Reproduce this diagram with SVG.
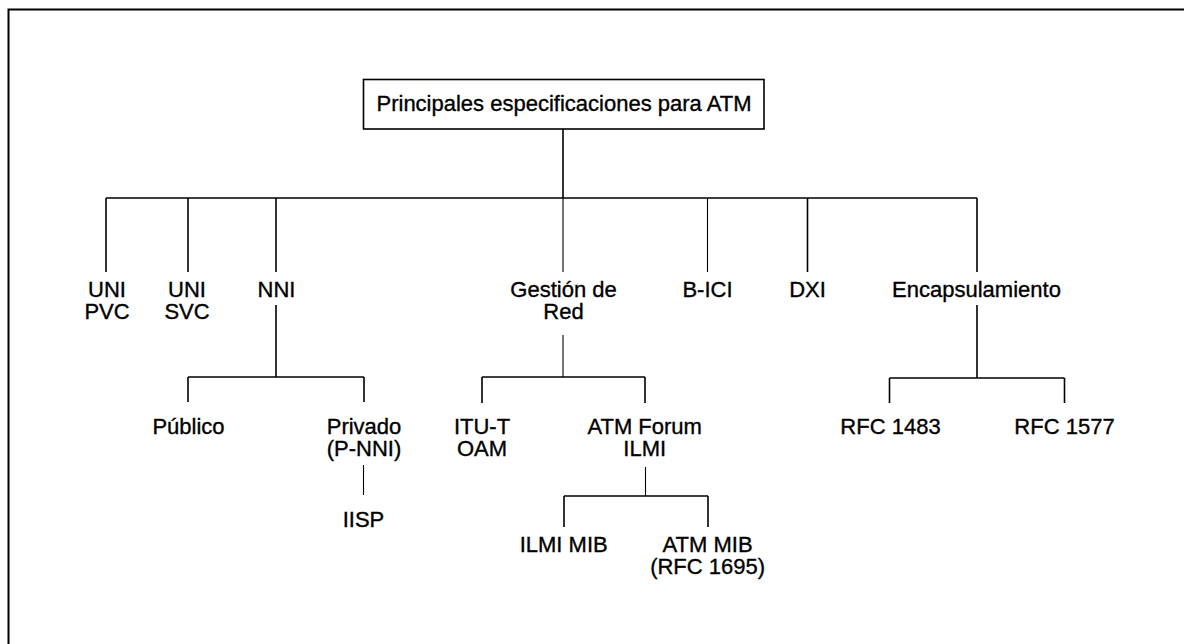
<svg xmlns="http://www.w3.org/2000/svg" width="1184" height="644" viewBox="0 0 1184 644">
<style>
.t{font-family:"Liberation Sans",Arial,sans-serif;font-size:22px;fill:#000;stroke:#000;stroke-width:0.35;text-anchor:middle}
.c{stroke:#000;stroke-width:1.6;fill:none}
.thin{stroke:#000;stroke-width:1.1;fill:none}
.f{stroke:#000;stroke-width:2;fill:none}
</style>
<rect width="1184" height="644" fill="#fff"/>
<path class="f" d="M8.5 644V9.5H1184"/>
<g id="connectors">
<path class="c" d="M563 129V198M106 198H977M106 198V272M188 198V272M276 198V272M807.5 198V272M977 198V272"/>
<path class="thin" d="M563 198V272M707.5 198V272"/>
<path class="c" d="M276 305V377M188 377H364M188 377V402M364 377V402"/>
<path class="thin" d="M363.5 465V495"/>
<path class="thin" d="M563 335V377"/>
<path class="c" d="M482 377H645M482 377V403M645 377V403"/>
<path class="thin" d="M645.5 467V496"/>
<path class="c" d="M564 496H708M564 496V527M708 496V527"/>
<path class="c" d="M977 305V378M889.5 378H1064.5M889.5 378V403M1064.5 378V403"/>
</g>
<g id="root"><rect x="363.5" y="79.5" width="400.5" height="49.5" fill="#fff" stroke="#000" stroke-width="1.6"/><text class="t" x="564" y="111">Principales especificaciones para ATM</text></g>
<g id="uni-pvc"><text class="t" x="107" y="297">UNI</text><text class="t" x="107" y="319">PVC</text></g>
<g id="uni-svc"><text class="t" x="187" y="297">UNI</text><text class="t" x="187" y="319">SVC</text></g>
<g id="nni"><text class="t" x="276.5" y="297">NNI</text></g>
<g id="gestion"><text class="t" x="563.5" y="297">Gestión de</text><text class="t" x="563.5" y="319">Red</text></g>
<g id="bici"><text class="t" x="707.5" y="297">B-ICI</text></g>
<g id="dxi"><text class="t" x="807.5" y="297">DXI</text></g>
<g id="encap"><text class="t" x="976.5" y="297">Encapsulamiento</text></g>
<g id="publico"><text class="t" x="188.5" y="433.5">Público</text></g>
<g id="privado"><text class="t" x="364" y="433.5">Privado</text><text class="t" x="364" y="455.5">(P-NNI)</text></g>
<g id="iisp"><text class="t" x="363.5" y="527">IISP</text></g>
<g id="itut"><text class="t" x="482" y="433.5">ITU-T</text><text class="t" x="482" y="455.5">OAM</text></g>
<g id="atmforum"><text class="t" x="644.7" y="433.5">ATM Forum</text><text class="t" x="644.7" y="455.5">ILMI</text></g>
<g id="ilmimib"><text class="t" x="563.7" y="552">ILMI MIB</text></g>
<g id="atmmib"><text class="t" x="707.6" y="552">ATM MIB</text><text class="t" x="707.6" y="574">(RFC 1695)</text></g>
<g id="rfc1483"><text class="t" x="890.5" y="434">RFC 1483</text></g>
<g id="rfc1577"><text class="t" x="1064.5" y="434">RFC 1577</text></g>
</svg>
